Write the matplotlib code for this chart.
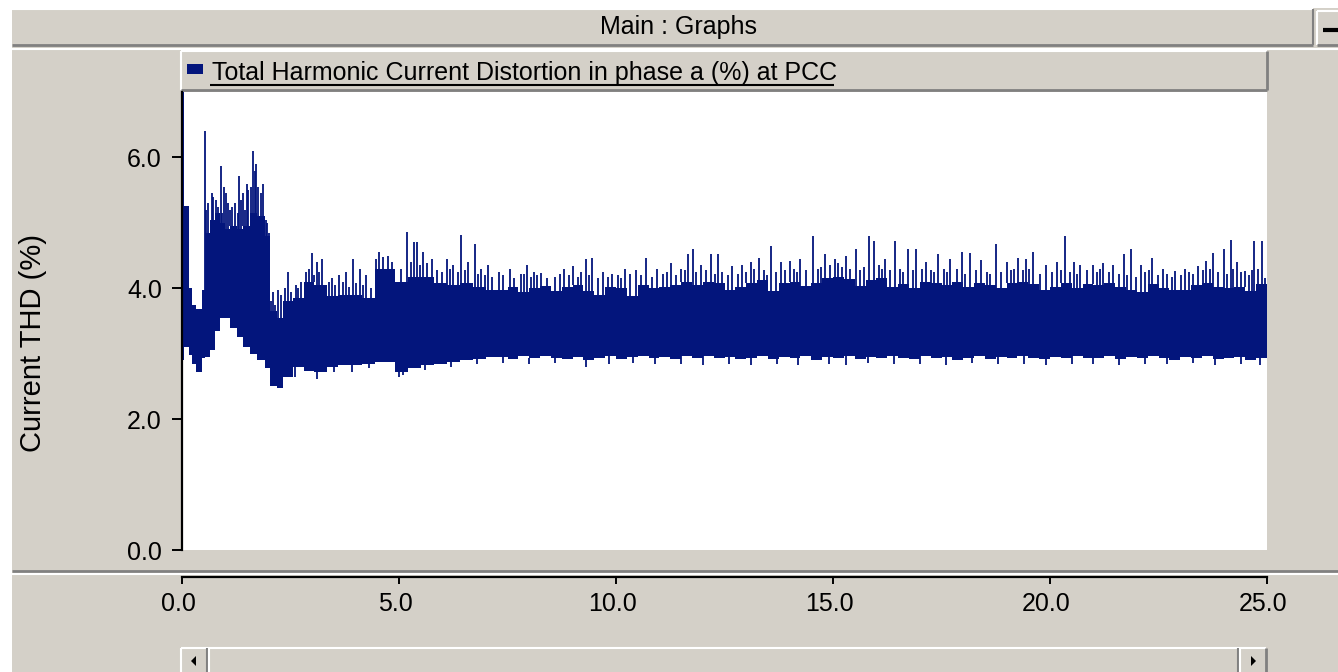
import matplotlib
matplotlib.use("Agg")
import matplotlib.pyplot as plt
from matplotlib.patches import Rectangle, Polygon
from matplotlib.transforms import ScaledTranslation

plt.rcParams['font.family'] = ['Liberation Sans', 'DejaVu Sans']

# ---- data ----
# body of the trace: segment start times (s), upper and lower level (%)
seg_t = [0.00, 0.05, 0.15, 0.22, 0.33, 0.45, 0.53, 0.64, 0.75, 0.87, 1.00, 1.10,
         1.26, 1.40, 1.57, 1.72, 1.91, 2.03, 2.20, 2.33, 2.55, 2.80, 3.05, 3.33,
         3.60, 3.90, 4.15, 4.45, 4.70, 4.90, 5.20, 5.50, 5.80, 6.10, 6.40, 6.70,
         7.00,
         7.25, 7.50, 7.75, 8.00, 8.25, 8.50,
         8.75, 9.00, 9.25, 9.50, 9.75, 10.00, 10.25, 10.50, 10.75, 11.00, 11.25,
         11.50, 11.75, 12.00, 12.25, 12.50, 12.75,
         13.00, 13.25, 13.50, 13.75, 14.00, 14.25, 14.50, 14.75, 15.00, 15.25,
         15.50, 15.75, 16.00, 16.25, 16.50, 16.75,
         17.00, 17.25, 17.50, 17.75, 18.00, 18.25, 18.50, 18.75, 19.00, 19.25,
         19.50, 19.75, 20.00, 20.25, 20.50, 20.75,
         21.00, 21.25, 21.50, 21.75, 22.00, 22.25, 22.50, 22.75, 23.00, 23.25,
         23.50, 23.75, 24.00, 24.25, 24.50, 24.75]
seg_top = [7.00, 5.26, 4.00, 3.75, 3.68, 3.98, 4.85, 5.05, 5.15, 5.00, 4.90, 4.95,
           4.90, 4.95, 5.15, 5.10, 4.80, 3.65, 3.55, 3.80, 3.85, 4.10, 4.05, 3.88,
           3.90, 3.90, 3.85, 4.30, 4.30, 4.10, 4.18, 4.18, 4.08, 4.05, 4.08, 4.02,
           3.98,
           3.98, 4.02, 3.95, 4.00, 4.03, 3.96,
           4.02, 4.05, 3.96, 3.90, 4.02, 4.00, 3.88, 4.05, 4.00, 4.02, 4.05,
           4.10, 4.05, 4.10, 4.08, 3.98, 4.02,
           4.08, 4.12, 3.96, 4.08, 4.10, 4.03, 4.08, 4.15, 4.18, 4.14,
           4.03, 4.12, 4.15, 4.02, 4.06, 4.00,
           4.10, 4.08, 4.05, 4.10, 4.02, 4.08, 4.05, 4.00, 4.08, 4.10,
           4.06, 3.98, 4.02, 4.08, 4.00, 4.06,
           4.05, 4.08, 4.02, 3.98, 3.94, 4.06, 4.00, 3.98, 3.98, 4.05,
           4.08, 4.02, 4.00, 4.02, 3.96, 4.06]
seg_bot = [2.90, 3.10, 2.98, 2.85, 2.72, 2.93, 2.95, 3.05, 3.35, 3.55, 3.55, 3.40,
           3.25, 3.10, 3.00, 2.90, 2.78, 2.50, 2.48, 2.65, 2.80, 2.73, 2.72, 2.80,
           2.82, 2.82, 2.85, 2.88, 2.88, 2.72, 2.78, 2.82, 2.85, 2.88, 2.90, 2.92,
           2.95,
           2.95, 2.92, 2.96, 2.93, 2.97, 2.94,
           2.92, 2.95, 2.90, 2.94, 2.96, 2.92, 2.95, 2.97, 2.93, 2.95, 2.92,
           2.96, 2.94, 2.97, 2.93, 2.95, 2.92,
           2.94, 2.97, 2.92, 2.95, 2.93, 2.96, 2.91, 2.95, 2.94, 2.97,
           2.92, 2.95, 2.93, 2.96, 2.94, 2.92,
           2.96, 2.93, 2.95, 2.91, 2.94, 2.97, 2.92, 2.95, 2.93, 2.96,
           2.94, 2.92, 2.95, 2.93, 2.97, 2.94,
           2.93, 2.96, 2.92, 2.95, 2.93, 2.96, 2.94, 2.91, 2.95, 2.93,
           2.96, 2.92, 2.94, 2.95, 2.90, 2.93]

# tall single spikes above the body: time (s), peak (%)
spike_t = [0.52, 0.60, 0.68, 0.78, 0.89, 0.97, 1.05, 1.16, 1.32, 1.40, 1.53, 1.64,
           1.70, 1.76, 1.90, 1.97,
           2.10, 2.22, 2.45, 2.62, 2.75, 2.99, 3.10, 3.22, 3.45, 3.62, 3.77, 3.95,
           4.10, 4.25,
           4.55, 4.75, 5.19, 5.34, 5.42, 5.55, 5.75, 6.10, 6.25, 6.43, 6.60, 6.75,
           6.90, 7.06, 7.30, 7.55, 7.80, 7.96, 8.10, 8.27,
           8.80, 9.02, 9.30, 9.45, 9.70, 9.90, 10.20, 10.45, 10.69, 10.95, 11.27,
           11.50, 11.65, 11.77, 11.95, 12.18, 12.36, 12.68,
           12.90, 13.10, 13.30, 13.58, 13.80, 14.00, 14.25, 14.54, 14.82, 15.05,
           15.30, 15.54, 15.84, 15.94, 16.20, 16.42, 16.73,
           16.92, 17.15, 17.42, 17.70, 17.98, 18.15, 18.42, 18.75, 19.00, 19.27,
           19.45, 19.61, 19.90, 20.15, 20.35, 20.55, 20.70, 20.98,
           21.23, 21.45, 21.70, 21.86, 22.10, 22.34, 22.60, 22.88, 23.10, 23.42,
           23.60, 23.75, 24.01, 24.16, 24.30, 24.49, 24.71, 24.88]
spike_v = [6.40, 5.30, 5.45, 5.35, 5.87, 5.55, 5.30, 5.25, 5.71, 5.45, 5.50, 6.10,
           5.90, 5.55, 5.10, 5.00,
           3.95, 3.98, 4.25, 4.05, 4.10, 4.54, 4.40, 4.45, 4.15, 4.20, 4.25, 4.44,
           4.30, 4.20,
           4.55, 4.50, 4.86, 4.70, 4.70, 4.55, 4.45, 4.44, 4.35, 4.82, 4.40, 4.68,
           4.30, 4.36, 4.25, 4.30, 4.22, 4.36, 4.25, 4.23,
           4.29, 4.34, 4.44, 4.46, 4.25, 4.22, 4.30, 4.28, 4.46, 4.30, 4.39,
           4.30, 4.52, 4.60, 4.35, 4.52, 4.52, 4.34,
           4.35, 4.40, 4.46, 4.65, 4.40, 4.42, 4.45, 4.80, 4.52, 4.45,
           4.50, 4.60, 4.80, 4.72, 4.45, 4.72, 4.60,
           4.60, 4.40, 4.52, 4.45, 4.56, 4.54, 4.43, 4.68, 4.40, 4.46,
           4.45, 4.56, 4.35, 4.40, 4.80, 4.40, 4.36, 4.36,
           4.38, 4.35, 4.52, 4.60, 4.35, 4.46, 4.30, 4.26, 4.30, 4.34,
           4.42, 4.54, 4.60, 4.74, 4.40, 4.26, 4.72, 4.72]

# shorter columns that make the ragged top edge: time (s), peak (%)
mid_t = [0.56, 0.72, 0.83, 0.93, 1.02, 1.10, 1.22, 1.28, 1.36, 1.46, 1.50, 1.60,
         1.68, 1.82, 1.86, 1.94, 2.00,
         2.05, 2.14, 2.28, 2.38, 2.52, 2.68, 2.86, 2.93, 3.04, 3.16, 3.28, 3.38,
         3.52, 3.70, 3.84, 4.02, 4.18, 4.35, 4.48, 4.62, 4.83,
         5.05, 5.28, 5.48, 5.65, 5.88, 6.00, 6.18, 6.35, 6.52, 6.83, 6.98, 7.15,
         7.40, 7.65, 7.88, 8.05, 8.18, 8.40, 8.60, 8.70, 8.92, 9.12, 9.20, 9.38,
         9.58, 9.82, 10.05, 10.12, 10.32, 10.58, 10.82, 11.08, 11.18, 11.38, 11.58,
         11.85, 12.08, 12.28, 12.45, 12.58, 12.82, 13.00, 13.18, 13.40, 13.48,
         13.68, 13.90, 14.10, 14.18, 14.38, 14.65, 14.72, 14.92, 15.12, 15.20,
         15.40, 15.62, 15.72, 16.05, 16.12, 16.32, 16.55, 16.62, 16.85,
         17.05, 17.25, 17.32, 17.55, 17.62, 17.85, 18.05, 18.30, 18.55, 18.62,
         18.88, 19.10, 19.18, 19.38, 19.52, 19.78, 20.05, 20.25, 20.45, 20.62,
         20.85, 21.08, 21.15, 21.35, 21.58, 21.78, 21.98, 22.18, 22.28, 22.48,
         22.70, 22.80, 23.02, 23.20, 23.30, 23.52, 23.68, 23.88, 24.08, 24.22,
         24.40, 24.58, 24.65, 24.80, 24.95]
mid_v = [5.20, 5.40, 5.25, 5.15, 5.45, 5.20, 5.30, 5.15, 5.35, 5.20, 5.60, 5.55,
         5.80, 5.45, 5.60, 5.05, 4.85,
         3.80, 3.75, 3.90, 4.00, 3.95, 4.00, 4.25, 4.30, 4.20, 4.25, 4.05, 4.10,
         4.05, 4.10, 4.02, 4.08, 4.05, 4.00, 4.45, 4.48, 4.40,
         4.30, 4.40, 4.35, 4.38, 4.28, 4.25, 4.30, 4.25, 4.28, 4.22, 4.20, 4.18,
         4.20, 4.15, 4.22, 4.18, 4.20, 4.15, 4.18, 4.22, 4.20, 4.18, 4.25, 4.20,
         4.15, 4.18, 4.20, 4.15, 4.22, 4.20, 4.18, 4.22, 4.25, 4.20, 4.28,
         4.25, 4.28, 4.22, 4.25, 4.20, 4.22, 4.25, 4.30, 4.28, 4.20,
         4.25, 4.28, 4.30, 4.25, 4.28, 4.30, 4.32, 4.35, 4.38, 4.33,
         4.30, 4.28, 4.32, 4.35, 4.30, 4.28, 4.30, 4.25, 4.28,
         4.30, 4.28, 4.25, 4.30, 4.25, 4.30, 4.22, 4.28, 4.25, 4.22,
         4.25, 4.28, 4.30, 4.28, 4.30, 4.22, 4.25, 4.28, 4.25, 4.22,
         4.28, 4.25, 4.30, 4.25, 4.22, 4.20, 4.18, 4.25, 4.28, 4.20,
         4.22, 4.18, 4.20, 4.25, 4.22, 4.28, 4.30, 4.25, 4.22, 4.30,
         4.25, 4.20, 4.28, 4.30, 4.15]

# short dips below the body: time (s), low (%)
dip_t = [2.28, 2.60, 3.10, 3.50, 3.92, 4.30, 5.00, 5.10, 5.60, 6.20, 6.80, 7.40,
         8.00, 8.60, 9.30, 9.85, 10.40, 10.90, 11.50, 12.00, 12.60, 13.10, 13.70,
         14.20, 14.90, 15.30, 15.80, 16.40, 17.00, 17.60, 18.20, 18.80, 19.40,
         19.90, 20.50, 21.00, 21.60, 22.20, 22.70, 23.30, 23.80, 24.40, 24.85]
dip_v = [2.55, 2.65, 2.62, 2.72, 2.72, 2.78, 2.65, 2.68, 2.75, 2.80, 2.85, 2.86,
         2.85, 2.86, 2.80, 2.85, 2.86, 2.84, 2.85, 2.83, 2.85, 2.82, 2.84,
         2.83, 2.85, 2.83, 2.86, 2.84, 2.85, 2.83, 2.86, 2.84, 2.85,
         2.83, 2.85, 2.84, 2.82, 2.85, 2.84, 2.86, 2.83, 2.85, 2.82]

t_end = 25.0
y_ticks = [0.0, 2.0, 4.0, 6.0]
x_ticks = [0.0, 5.0, 10.0, 15.0, 20.0, 25.0]

NAVY = '#03157C'
GRAY = '#D4D0C8'
DARK = '#808080'
W, H = 1338, 672
FS = 18

fig = plt.figure(figsize=(W / 100, H / 100), dpi=100)
fig.patch.set_facecolor('white')

# background "window" drawn in pixel coordinates
bg = fig.add_axes([0, 0, 1, 1])
bg.set_xlim(0, W)
bg.set_ylim(H, 0)
bg.axis('off')


def hline(x0, x1, y, c, lw=1.5):
    bg.plot([x0, x1], [y, y], color=c, lw=lw, solid_capstyle='butt')


def vline(x, y0, y1, c, lw=1.5):
    bg.plot([x, x], [y0, y1], color=c, lw=lw, solid_capstyle='butt')


bg.add_patch(Rectangle((12, 8), W - 12, H - 8, color=GRAY, lw=0))

# title bar
hline(12, 1313, 9, 'white')
hline(12, 1313, 45, DARK, 2)
vline(1313, 9, 45, DARK)
bg.text(679, 27, 'Main : Graphs', ha='center', va='center', fontsize=FS)
# small button top right
hline(1317, W, 11, 'white')
vline(1317, 11, 45, 'white')
hline(1317, W, 45, DARK, 2)
hline(1323, W, 30, 'black', 3)
hline(12, W, 49, 'white')

# legend bar above the plot
hline(181, 1267, 51, 'white')
vline(181, 51, 90, 'white')
hline(181, 1267, 90, DARK, 2)
vline(1267, 51, 90, DARK, 2)
bg.add_patch(Rectangle((187, 64), 16, 10, color=NAVY, lw=0))
bg.text(212, 80, 'Total Harmonic Current Distortion in phase a (%) at PCC',
        ha='left', va='baseline', fontsize=FS)
hline(210, 834, 85, 'black', 1.5)

# y label
bg.text(33, 343, 'Current THD (%)', rotation=90, ha='center', va='center',
        fontsize=21)

# separator between plot and x axis
hline(12, W, 571, DARK, 2)
hline(12, W, 574, 'white')

# scroll bar
hline(181, 1266, 648, 'white')
vline(181, 648, H, 'white')
vline(207, 648, H, DARK)
vline(209, 648, H, 'white')
vline(1238, 648, H, DARK)
vline(1240, 648, H, 'white')
vline(1266, 648, H, DARK, 2)
bg.add_patch(Polygon([[191, 661], [196, 656], [196, 666]], color='black', lw=0))
bg.add_patch(Polygon([[1256, 661], [1251, 656], [1251, 666]], color='black', lw=0))

# ---- plot area ----
left, right, top, bottom = 182, 1267, 92, 550
ax = fig.add_axes([left / W, (H - bottom) / H, (right - left) / W, (bottom - top) / H])
ax.set_facecolor('white')

edges = seg_t + [t_end]
tops = seg_top + [seg_top[-1]]
bots = seg_bot + [seg_bot[-1]]
ax.fill_between(edges, bots, tops, step='post', color=NAVY, lw=0)


def seg_index(t):
    return max(k for k in range(len(seg_t)) if seg_t[k] <= t)


# columns start from the body edge at their time
ax.vlines(mid_t, [seg_top[seg_index(t)] for t in mid_t], mid_v, color=NAVY, lw=1.3)
ax.vlines(spike_t, [seg_top[seg_index(t)] for t in spike_t], spike_v, color=NAVY, lw=1.3)
ax.vlines(dip_t, [seg_bot[seg_index(t)] for t in dip_t], dip_v, color=NAVY, lw=1.3)

ax.set_xlim(0, t_end)
ax.set_ylim(0, 7.0)
ax.set_yticks(y_ticks)
ax.set_yticklabels(['%.1f' % v for v in y_ticks])
ax.set_xticks([])
for s in ['top', 'right', 'bottom']:
    ax.spines[s].set_visible(False)
ax.spines['left'].set_linewidth(1.6)
ax.tick_params(axis='y', direction='out', length=7.5, width=1.4, pad=7,
               labelsize=FS)

# separate x axis strip (as in the PSCAD graph frame)
xax = fig.add_axes([left / W, (H - 577) / H, (right - left) / W, 0.0001])
xax.set_facecolor('none')
xax.set_xlim(0, t_end)
xax.set_yticks([])
for s in ['top', 'right', 'left']:
    xax.spines[s].set_visible(False)
xax.spines['bottom'].set_linewidth(1.6)
xax.set_xticks(x_ticks)
xax.set_xticklabels(['%.1f' % v for v in x_ticks])
xax.tick_params(axis='x', direction='out', length=5, width=1.4, pad=6,
                labelsize=FS)
shift = ScaledTranslation(-4 / 100, 0, fig.dpi_scale_trans)
for lab in xax.get_xticklabels():
    lab.set_transform(lab.get_transform() + shift)

fig.savefig('out.png', dpi=100)
